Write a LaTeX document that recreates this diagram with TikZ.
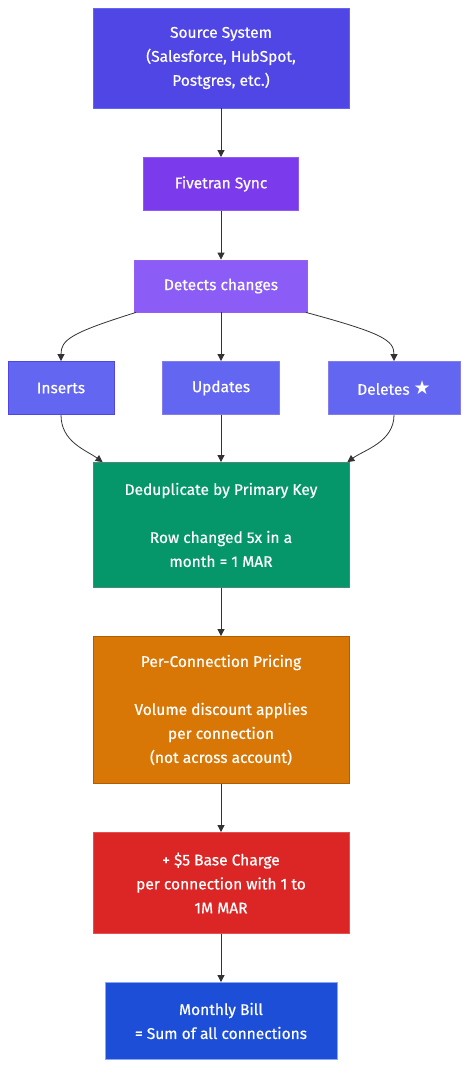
\documentclass[tikz,border=0pt]{standalone}
\usepackage{fontspec}
\setmainfont{Fira Sans}[FakeBold=0.5]
\newfontfamily\symfont{DejaVu Sans}
\usetikzlibrary{arrows.meta, calc}

\definecolor{srcblue}{HTML}{4F46E5}
\definecolor{syncviolet}{HTML}{7C3AED}
\definecolor{detviolet}{HTML}{8B5CF6}
\definecolor{kindblue}{HTML}{6366F1}
\definecolor{dedupgreen}{HTML}{059669}
\definecolor{priceorange}{HTML}{D97706}
\definecolor{basered}{HTML}{DC2626}
\definecolor{billblue}{HTML}{1D4ED8}
\definecolor{edgegray}{HTML}{333333}

\tikzset{
  box/.style={rectangle, text=white, align=center, inner sep=0pt,
    line width=0.8pt, font=\fontsize{15.5}{24}\selectfont},
  flow/.style={draw=edgegray, line width=0.8pt,
    -{Triangle[length=7pt, width=7pt]}},
}

\begin{document}
\begin{tikzpicture}[x=1pt, y=-1pt]
  \useasboundingbox (0,0) rectangle (476,1086);

  \node[box, fill=srcblue, draw=kindblue, minimum width=256pt, minimum height=100pt]
    (src) at (221,58) {Source System\\(Salesforce, HubSpot,\\Postgres, etc.)};
  \node[box, fill=syncviolet, draw=detviolet, minimum width=155pt, minimum height=53pt]
    (sync) at (221,184) {Fivetran Sync};
  \node[box, fill=detviolet, draw=syncviolet!80, minimum width=173pt, minimum height=52pt]
    (detect) at (221,286) {Detects changes};

  \node[box, fill=kindblue, draw=srcblue, minimum width=106pt, minimum height=53pt]
    (ins) at (61,388) {Inserts};
  \node[box, fill=kindblue, draw=srcblue!70, minimum width=117pt, minimum height=53pt]
    (upd) at (221,388) {Updates};
  \node[box, fill=kindblue, draw=srcblue!70, minimum width=132pt, minimum height=53pt]
    (del) at (394,388) {Deletes {\symfont\fontsize{19}{24}\selectfont ★}};

  \node[box, fill=dedupgreen, draw=gray!60!dedupgreen, minimum width=256pt, minimum height=125pt]
    (dedup) at (221,525) {Deduplicate by Primary Key\\[24pt]Row changed 5x in a\\month = 1 MAR};
  \node[box, fill=priceorange, draw=priceorange!80!black, minimum width=256pt, minimum height=147pt]
    (price) at (221,710) {Per-Connection Pricing\\[24pt]Volume discount applies\\per connection\\(not across account)};
  \node[box, fill=basered, draw=basered!80!white, minimum width=256pt, minimum height=101pt]
    (base) at (221,883) {+ \$5 Base Charge\\per connection with 1 to\\1M MAR};
  \node[box, fill=billblue, draw=billblue!50!white, minimum width=232pt, minimum height=77pt]
    (bill) at (221,1021) {Monthly Bill\\= Sum of all connections};

  \draw[flow] (src) -- (sync);
  \draw[flow] (sync) -- (detect);
  \draw[flow] ($(detect.south west)+(2,0)$) .. controls (70,333) and (61,340) .. (ins.north);
  \draw[flow] (detect) -- (upd);
  \draw[flow] ($(detect.south east)+(-2,0)$) .. controls (382,333) and (394,340) .. (del.north);
  \draw[flow] (ins.south) .. controls (61,442) and (86,450) .. ($(dedup.north west)+(10,0)$);
  \draw[flow] (upd) -- (dedup);
  \draw[flow] (del.south) .. controls (394,442) and (364,450) .. ($(dedup.north east)+(-2,0)$);
  \draw[flow] (dedup) -- (price);
  \draw[flow] (price) -- (base);
  \draw[flow] (base) -- (bill);
\end{tikzpicture}
\end{document}
